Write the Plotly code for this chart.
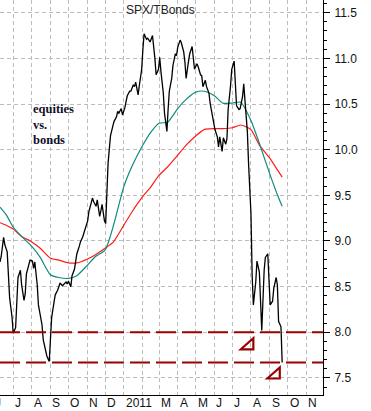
import plotly.graph_objects as go
import pandas as pd

# SPX / T-Bonds ratio, sampled every second business day, ending 2011-09-22
ratio = [
    8.77, 8.83, 9.04, 8.96, 8.88, 8.57, 8.38, 8.17, 7.99, 8.05,
    8.40, 8.60, 8.68, 8.52, 8.35, 8.42, 8.64, 8.76, 8.79, 8.78,
    8.70, 8.77, 8.52, 8.30, 8.16, 8.08, 7.92, 7.78, 7.74, 7.68,
    7.90, 8.16, 8.33, 8.41, 8.46, 8.50, 8.54, 8.51, 8.52, 8.55,
    8.53, 8.56, 8.50, 8.62, 8.69, 8.78, 8.86, 8.94, 8.99, 9.05,
    9.10, 9.15, 9.22, 9.32, 9.41, 9.47, 9.43, 9.38, 9.45, 9.27,
    9.33, 9.40, 9.22, 9.19, 9.85, 10.02, 10.15, 10.26, 10.31, 10.36,
    10.42, 10.40, 10.45, 10.38, 10.46, 10.53, 10.59, 10.64, 10.64, 10.71,
    10.69, 10.74, 10.60, 10.70, 10.88, 11.10, 11.27, 11.21, 11.22, 11.18,
    11.23, 11.25, 11.00, 10.82, 10.88, 11.01, 10.86, 10.62, 10.40, 10.20,
    10.44, 10.64, 10.78, 10.92, 11.05, 11.03, 11.12, 11.20, 11.17, 11.07,
    10.96, 10.78, 10.97, 11.05, 11.13, 11.02, 10.88, 10.94, 10.91, 10.82,
    10.81, 10.69, 10.76, 10.69, 10.62, 10.51, 10.43, 10.32, 10.22, 10.14,
    10.03, 10.14, 9.98, 10.13, 10.06, 10.12, 10.44, 10.70, 10.88, 10.97,
    10.70, 10.48, 10.44, 10.45, 10.58, 10.72, 10.54, 10.20, 9.85, 9.30,
    8.62, 8.30, 8.55, 8.78, 8.66, 8.40, 8.02, 8.68, 8.82, 8.86,
    8.55, 8.30, 8.34, 8.48, 8.60, 8.52, 8.12, 8.06, 7.67,
]
ratio_dates = pd.bdate_range(end="2011-09-22", periods=len(ratio), freq="2B")

# moving averages (read at half-month points)
ma_dates = [
    "2010-06-09", "2010-06-20", "2010-07-01", "2010-07-15", "2010-08-01", "2010-08-15",
    "2010-09-01", "2010-09-15", "2010-10-01", "2010-10-15", "2010-11-01", "2010-11-15",
    "2010-12-01", "2010-12-15", "2011-01-01", "2011-01-15", "2011-02-01", "2011-02-15",
    "2011-03-01", "2011-03-15", "2011-04-01", "2011-04-15", "2011-05-01", "2011-05-15",
    "2011-06-01", "2011-06-15", "2011-07-01", "2011-07-15", "2011-08-01", "2011-08-15",
    "2011-09-01", "2011-09-15", "2011-09-22",
]
ma_fast = [
    9.37, 9.28, 9.15, 9.05, 8.94, 8.82, 8.63, 8.60, 8.59, 8.62, 8.73, 8.83,
    8.90, 9.17, 9.59, 9.82, 10.04, 10.19, 10.29, 10.30, 10.45, 10.55, 10.63, 10.64,
    10.59, 10.51, 10.51, 10.52, 10.32, 10.07, 9.74, 9.49, 9.38,
]
ma_slow = [
    9.20, 9.17, 9.13, 9.05, 8.99, 8.92, 8.81, 8.79, 8.76, 8.76, 8.80, 8.85,
    8.92, 8.99, 9.17, 9.32, 9.48, 9.59, 9.72, 9.81, 9.94, 10.05, 10.15, 10.22,
    10.23, 10.23, 10.24, 10.27, 10.22, 10.05, 9.91, 9.77, 9.70,
]

support_levels = [8.0, 7.67]
marker_dates = ["2011-07-26", "2011-09-08"]
marker_values = [7.874, 7.554]

month_ticks = pd.date_range("2010-07-01", "2011-11-01", freq="MS")
month_labels = ["J", "A", "S", "O", "N", "D", "2011", "", "M", "A", "M",
                "J", "J", "A", "S", "O", "N"]
first_label = "J"  # June 2010, mostly cut off at the left edge
y_ticks = [7.5, 8.0, 8.5, 9.0, 9.5, 10.0, 10.5, 11.0, 11.5]

FONT = "Arial, Liberation Sans, sans-serif"
X_RANGE = ["2010-06-09", "2011-11-29"]

fig = go.Figure()
fig.add_trace(go.Scatter(x=ma_dates, y=ma_slow, mode="lines",
                         line=dict(color="#ff1a1a", width=1.2, shape="spline", smoothing=0.6),
                         hoverinfo="skip", showlegend=False))
fig.add_trace(go.Scatter(x=ma_dates, y=ma_fast, mode="lines",
                         line=dict(color="#0d8c7e", width=1.2, shape="spline", smoothing=0.6),
                         hoverinfo="skip", showlegend=False))
fig.add_trace(go.Scatter(x=ratio_dates, y=ratio, mode="lines",
                         line=dict(color="black", width=1.3),
                         showlegend=False))

for lvl in support_levels:
    fig.add_shape(type="line", xref="paper", x0=0, x1=1, yref="y", y0=lvl, y1=lvl,
                  line=dict(color="#9a0000", width=2, dash="20px,6px"))

for d, v in zip(marker_dates, marker_values):
    fig.add_shape(type="path", xref="x", yref="y", xsizemode="pixel", ysizemode="pixel",
                  xanchor=d, yanchor=v, path="M -6.5,-5.5 L 6,5.5 L 6,-5.5 Z",
                  line=dict(color="#9a0000", width=2.2))

fig.add_annotation(text="SPX/TBonds", xref="paper", yref="paper", x=0.497, y=0.975,
                   showarrow=False, font=dict(family=FONT, size=12, color="#222"),
                   xanchor="center", yanchor="middle")

for txt, yy in zip(["equities", "vs.", "bonds"], [109, 124.5, 139.5]):
    fig.add_annotation(text="<b>%s</b>" % txt, xref="paper", yref="paper",
                       x=31 / 323, y=(395 - yy) / 395, showarrow=False,
                       xanchor="left", yanchor="middle",
                       font=dict(family="Liberation Serif, Times New Roman, serif",
                                 size=12.5, color="#101028"))

# month labels, left-aligned just after each month gridline
for d, lab in zip(month_ticks, month_labels):
    if lab:
        fig.add_annotation(text=lab, xref="x", yref="paper", x=d, y=0,
                           xanchor="left", yanchor="top", showarrow=False,
                           xshift=0, yshift=1,
                           font=dict(family=FONT, size=12, color="#111"))
fig.add_annotation(text=first_label, xref="paper", yref="paper", x=-0.022, y=0,
                   xanchor="left", yanchor="top", showarrow=False, yshift=1,
                   font=dict(family=FONT, size=12, color="#111"))

fig.update_layout(
    width=371, height=411,
    margin=dict(l=0, r=48, t=0, b=16, autoexpand=False),
    paper_bgcolor="white", plot_bgcolor="white",
    showlegend=False,
    xaxis=dict(
        type="date", range=X_RANGE,
        tickmode="array", tickvals=month_ticks, showticklabels=False,
        automargin=False,
        ticks="", showgrid=True, gridcolor="#bcbcbc", gridwidth=1, griddash="4px,3px",
        showline=True, linecolor="black", linewidth=1, zeroline=False,
    ),
    yaxis=dict(
        side="right", range=[7.313, 11.639], automargin=False,
        tickmode="array", tickvals=y_ticks, ticktext=["%.1f" % t for t in y_ticks],
        ticks="outside", ticklen=6, tickcolor="black", tickwidth=1,
        minor=dict(tick0=7.5, dtick=0.1, ticks="outside", ticklen=3,
                   tickcolor="black", showgrid=False),
        showgrid=True, gridcolor="#bcbcbc", gridwidth=1, griddash="4px,3px",
        showline=True, linecolor="black", linewidth=1, zeroline=False,
        ticklabelstandoff=2,
        tickfont=dict(family=FONT, size=12, color="#111"),
    ),
)

fig.write_html("out.html",
               config={"displayModeBar": False},
               post_script="document.body.style.margin='0';document.body.style.overflow='hidden';")
